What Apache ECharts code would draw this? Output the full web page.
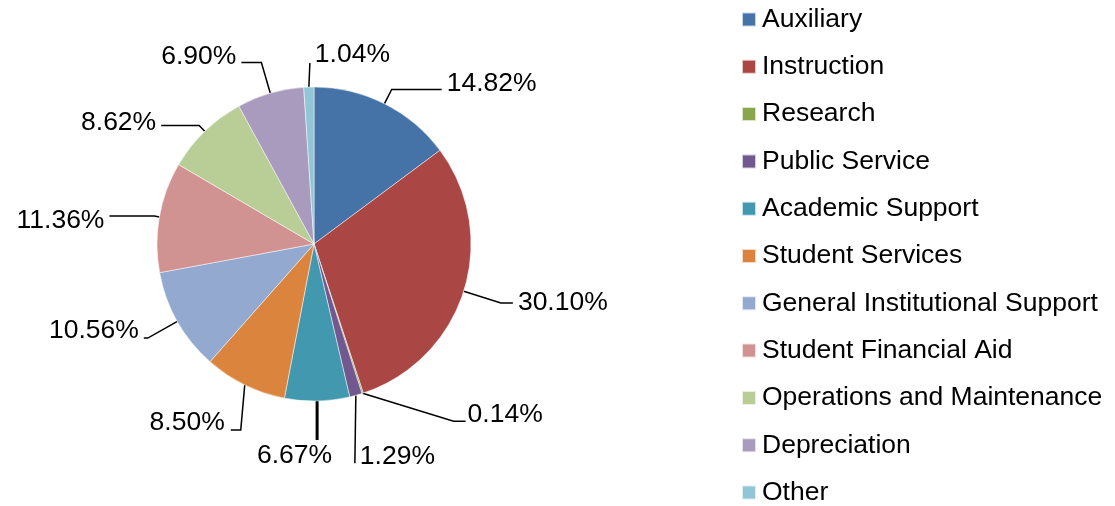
<!DOCTYPE html>
<html>
<head>
<meta charset="utf-8">
<script src="https://cdn.jsdelivr.net/npm/echarts@6/dist/echarts.min.js"></script>
<style>
html,body{margin:0;padding:0;background:#fff;overflow:hidden;}
#chart{width:1115px;height:506px;}
</style>
</head>
<body>
<div id="chart"></div>
<script>
var categories = ['Auxiliary','Instruction','Research','Public Service','Academic Support','Student Services','General Institutional Support','Student Financial Aid','Operations and Maintenance','Depreciation','Other'];
var values = [14.82, 30.10, 0.14, 1.29, 6.67, 8.50, 10.56, 11.36, 8.62, 6.90, 1.04];
var colors = ['#4572A7','#AA4643','#89A54E','#71588F','#4198AF','#DB843D','#93A9CF','#D19392','#B9CD96','#A99BBD','#92C5D6'];
// leader line lengths [length, length2] per slice and label vertical nudges (styling only)
var leaderLengths = [[16,50],[39,12],[30,90],[20,10],[20,10],[20,10],[34,4],[5,45],[8,38],[32,20],[20,10]];
var labelDy = [-6, 0, 0, 0, 0, 0, -7, 5, -3, -6, 0];

var chart = echarts.init(document.getElementById('chart'), null, {renderer:'canvas'});
var data = categories.map(function(c,i){
  return {name:c, value:values[i], itemStyle:{color:colors[i]},
          labelLine:{length:leaderLengths[i][0], length2:leaderLengths[i][1]}};
});
data[4].labelLine.lineStyle = {width:3};

chart.setOption({
  animation:false,
  backgroundColor:'#ffffff',
  legend:{
    orient:'vertical',
    left:741, top:6, padding:0, height:600,
    itemWidth:14, itemHeight:14, itemGap:20.3,
    icon:'rect',
    textStyle:{fontFamily:'Liberation Sans, Arial, sans-serif', fontSize:26.5, lineHeight:26, color:'#000', padding:[0,0,0,1]},
    data:categories
  },
  series:[{
    type:'pie',
    center:[314,244],
    radius:157,
    startAngle:90,
    clockwise:true,
    avoidLabelOverlap:false,
    data:data,
    itemStyle:{borderColor:'rgba(255,255,255,0.7)', borderWidth:0.7},
    label:{
      show:true,
      position:'outside',
      distanceToLabelLine:5,
      formatter:function(p){ return p.value.toFixed(2)+'%'; },
      fontFamily:'Liberation Sans, Arial, sans-serif',
      fontSize:26.5,
      color:'#000'
    },
    labelLine:{show:true, lineStyle:{color:'#000', width:1.5}},
    labelLayout:function(params){
      var pts = params.labelLinePoints;
      if(!pts) return;
      var i = params.dataIndex;
      var p = pts[0];
      if(i === 10){
        return {x: p[0] + 6, y: p[1] - 32, align:'left', verticalAlign:'middle',
                labelLinePoints:[p, [p[0]+1, p[1]-24], [p[0]+1, p[1]-24]]};
      }
      if(i === 2){
        return {x: p[0] + 105, y: p[1] + 21, align:'left', verticalAlign:'middle',
                labelLinePoints:[p, [p[0]+91, p[1]+28], [p[0]+103, p[1]+28]]};
      }
      if(i === 4){
        return {x: p[0] + 15, y: p[1] + 55, align:'right', verticalAlign:'middle',
                labelLinePoints:[p, [p[0], p[1]+39], [p[0], p[1]+39]]};
      }
      if(i === 3){
        return {x: p[0] + 4, y: p[1] + 61, align:'left', verticalAlign:'middle',
                labelLinePoints:[p, [p[0]-1, p[1]+68], [p[0]-1, p[1]+68]]};
      }
      if(i === 5){
        return {x: p[0] - 20, y: p[1] + 38, align:'right', verticalAlign:'middle',
                labelLinePoints:[p, [p[0]-4, p[1]+45], [p[0]-14, p[1]+45]]};
      }
      return {dy: labelDy[i], labelLinePoints: pts.map(function(a){ return a.slice(); })};
    },
    emphasis:{disabled:true}
  }]
});
</script>
</body>
</html>
